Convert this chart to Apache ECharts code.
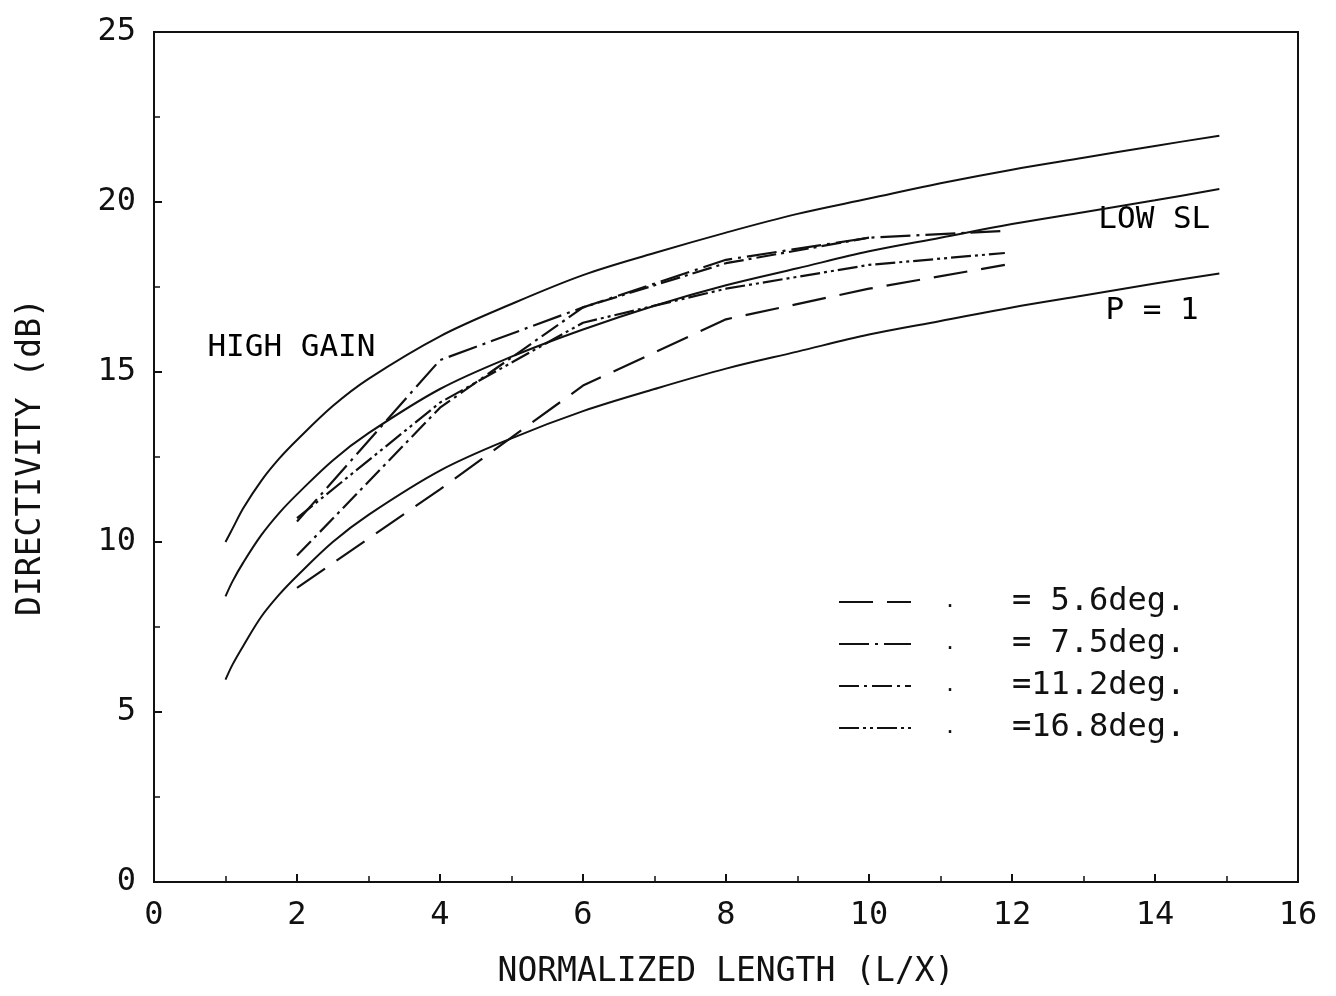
<!DOCTYPE html>
<html><head><meta charset="utf-8">
<script src="https://cdn.jsdelivr.net/npm/echarts@6/dist/echarts.min.js"></script>
<style>html,body{margin:0;padding:0;background:#fff}#c{width:1336px;height:996px}</style>
</head><body><div id="c"></div>
<script>
// ---- data ----
const curveX   = [1, 1.1, 1.25, 1.5, 1.75, 2, 2.5, 3, 4, 5, 6, 7, 8, 9, 10, 11, 12, 13, 14, 14.9];
const highGain = [10.0, 10.4, 11.0, 11.8, 12.45, 13.0, 14.0, 14.8, 16.05, 17.0, 17.85, 18.5, 19.1, 19.65, 20.1, 20.55, 20.95, 21.3, 21.65, 21.95];
const lowSL    = [8.4, 8.85, 9.4, 10.2, 10.85, 11.4, 12.4, 13.2, 14.5, 15.45, 16.25, 16.95, 17.55, 18.05, 18.55, 18.95, 19.35, 19.7, 20.05, 20.38];
const pOne     = [5.95, 6.4, 6.95, 7.8, 8.45, 9.0, 10.0, 10.8, 12.1, 13.05, 13.85, 14.5, 15.1, 15.6, 16.1, 16.5, 16.9, 17.25, 17.6, 17.9];

const x56  = [2, 4, 6, 8, 10, 11.9];
const d56  = [8.65, 11.55, 14.6, 16.55, 17.45, 18.15];
const x75  = [2, 4, 6, 8, 10, 11.9];
const d75  = [10.6, 15.35, 16.9, 18.3, 18.95, 19.15];
const x112 = [2, 4, 6, 8, 10];
const d112 = [9.6, 13.95, 16.9, 18.2, 18.95];
const x168 = [2, 4, 6, 8, 10, 11.9];
const d168 = [10.7, 14.1, 16.45, 17.45, 18.15, 18.5];

const legendNames = ['= 5.6deg.', '= 7.5deg.', '=11.2deg.', '=16.8deg.'];
const annotations = [[0.74, 15.7, 'HIGH GAIN'], [13.2, 19.47, 'LOW SL'], [13.3, 16.8, 'P = 1']];
const xName = 'NORMALIZED LENGTH (L/X)';
const yName = 'DIRECTIVITY (dB)';

// ---- build ----
const FONT = '"DejaVu Sans Mono", monospace';
const INK = '#111';
const zip = (xs, ys) => xs.map((x, i) => [x, ys[i]]);

function solid(name, ys) {
  return { name, type: 'line', data: zip(curveX, ys), smooth: 0.35, symbol: 'none',
    lineStyle: { color: INK, width: 2 }, silent: true, z: 3 };
}
function dashed(name, xs, ys, pattern) {
  return { name, type: 'line', data: zip(xs, ys), smooth: false, symbol: 'none',
    itemStyle: { color: INK },
    lineStyle: { color: INK, width: 2.2, type: pattern }, silent: true, z: 4 };
}

const chart = echarts.init(document.getElementById('c'), null, { renderer: 'canvas' });
chart.setOption({
  animation: false,
  backgroundColor: '#fff',
  grid: { left: 154, right: 38, top: 32, bottom: 114, show: true, borderColor: INK, borderWidth: 2, backgroundColor: 'transparent' },
  xAxis: {
    type: 'value', min: 0, max: 16, interval: 2,
    name: xName, nameLocation: 'middle', nameGap: 74,
    nameTextStyle: { fontFamily: FONT, fontSize: 33, color: INK },
    axisLine: { lineStyle: { color: INK, width: 2 } },
    axisTick: { inside: true, length: 8, lineStyle: { color: INK, width: 2 } },
    minorTick: { show: true, splitNumber: 2, length: 6, lineStyle: { color: INK, width: 1.5 } },
    splitLine: { show: false },
    axisLabel: { margin: 18, fontFamily: FONT, fontSize: 32, color: INK }
  },
  yAxis: {
    type: 'value', min: 0, max: 25, interval: 5,
    name: yName, nameLocation: 'middle', nameGap: 106,
    nameTextStyle: { fontFamily: FONT, fontSize: 33, color: INK },
    axisLine: { lineStyle: { color: INK, width: 2 } },
    axisTick: { inside: true, length: 8, lineStyle: { color: INK, width: 2 } },
    minorTick: { show: true, splitNumber: 2, length: 6, lineStyle: { color: INK, width: 1.5 } },
    splitLine: { show: false },
    axisLabel: { margin: 18, fontFamily: FONT, fontSize: 32, color: INK }
  },
  legend: {
    data: legendNames, orient: 'vertical', left: 833, top: 581,
    itemWidth: 72, itemHeight: 22, itemGap: 10,
    selectedMode: false,
    itemStyle: { opacity: 0 },
    formatter: n => '{a| }{d|.}{b| }{n|' + n + '}',
    textStyle: {
      fontFamily: FONT, fontSize: 32, color: INK, lineHeight: 22,
      rich: {
        a: { width: 28, lineHeight: 22 },
        d: { fontFamily: FONT, fontSize: 20, color: INK, width: 10, lineHeight: 22 },
        b: { width: 58, lineHeight: 22 },
        n: { fontFamily: FONT, fontSize: 32, color: INK, lineHeight: 22 }
      }
    }
  },
  series: [
    solid('HIGH GAIN', highGain),
    solid('LOW SL', lowSL),
    solid('P = 1', pOne),
    dashed(legendNames[0], x56, d56, [34, 14]),
    dashed(legendNames[1], x75, d75, [30, 6, 3, 6]),
    dashed(legendNames[2], x112, d112, [20, 5, 3, 5]),
    dashed(legendNames[3], x168, d168, [20, 4, 3, 4, 3, 4]),
    {
      type: 'scatter', data: annotations, symbolSize: 1, silent: true,
      itemStyle: { color: 'rgba(255,255,255,0)' },
      label: { show: true, position: 'right', distance: 0, formatter: p => p.data[2],
        fontFamily: FONT, fontSize: 31, color: '#000', opacity: 1, textBorderWidth: 0 }
    }
  ]
});
</script>
</body></html>
